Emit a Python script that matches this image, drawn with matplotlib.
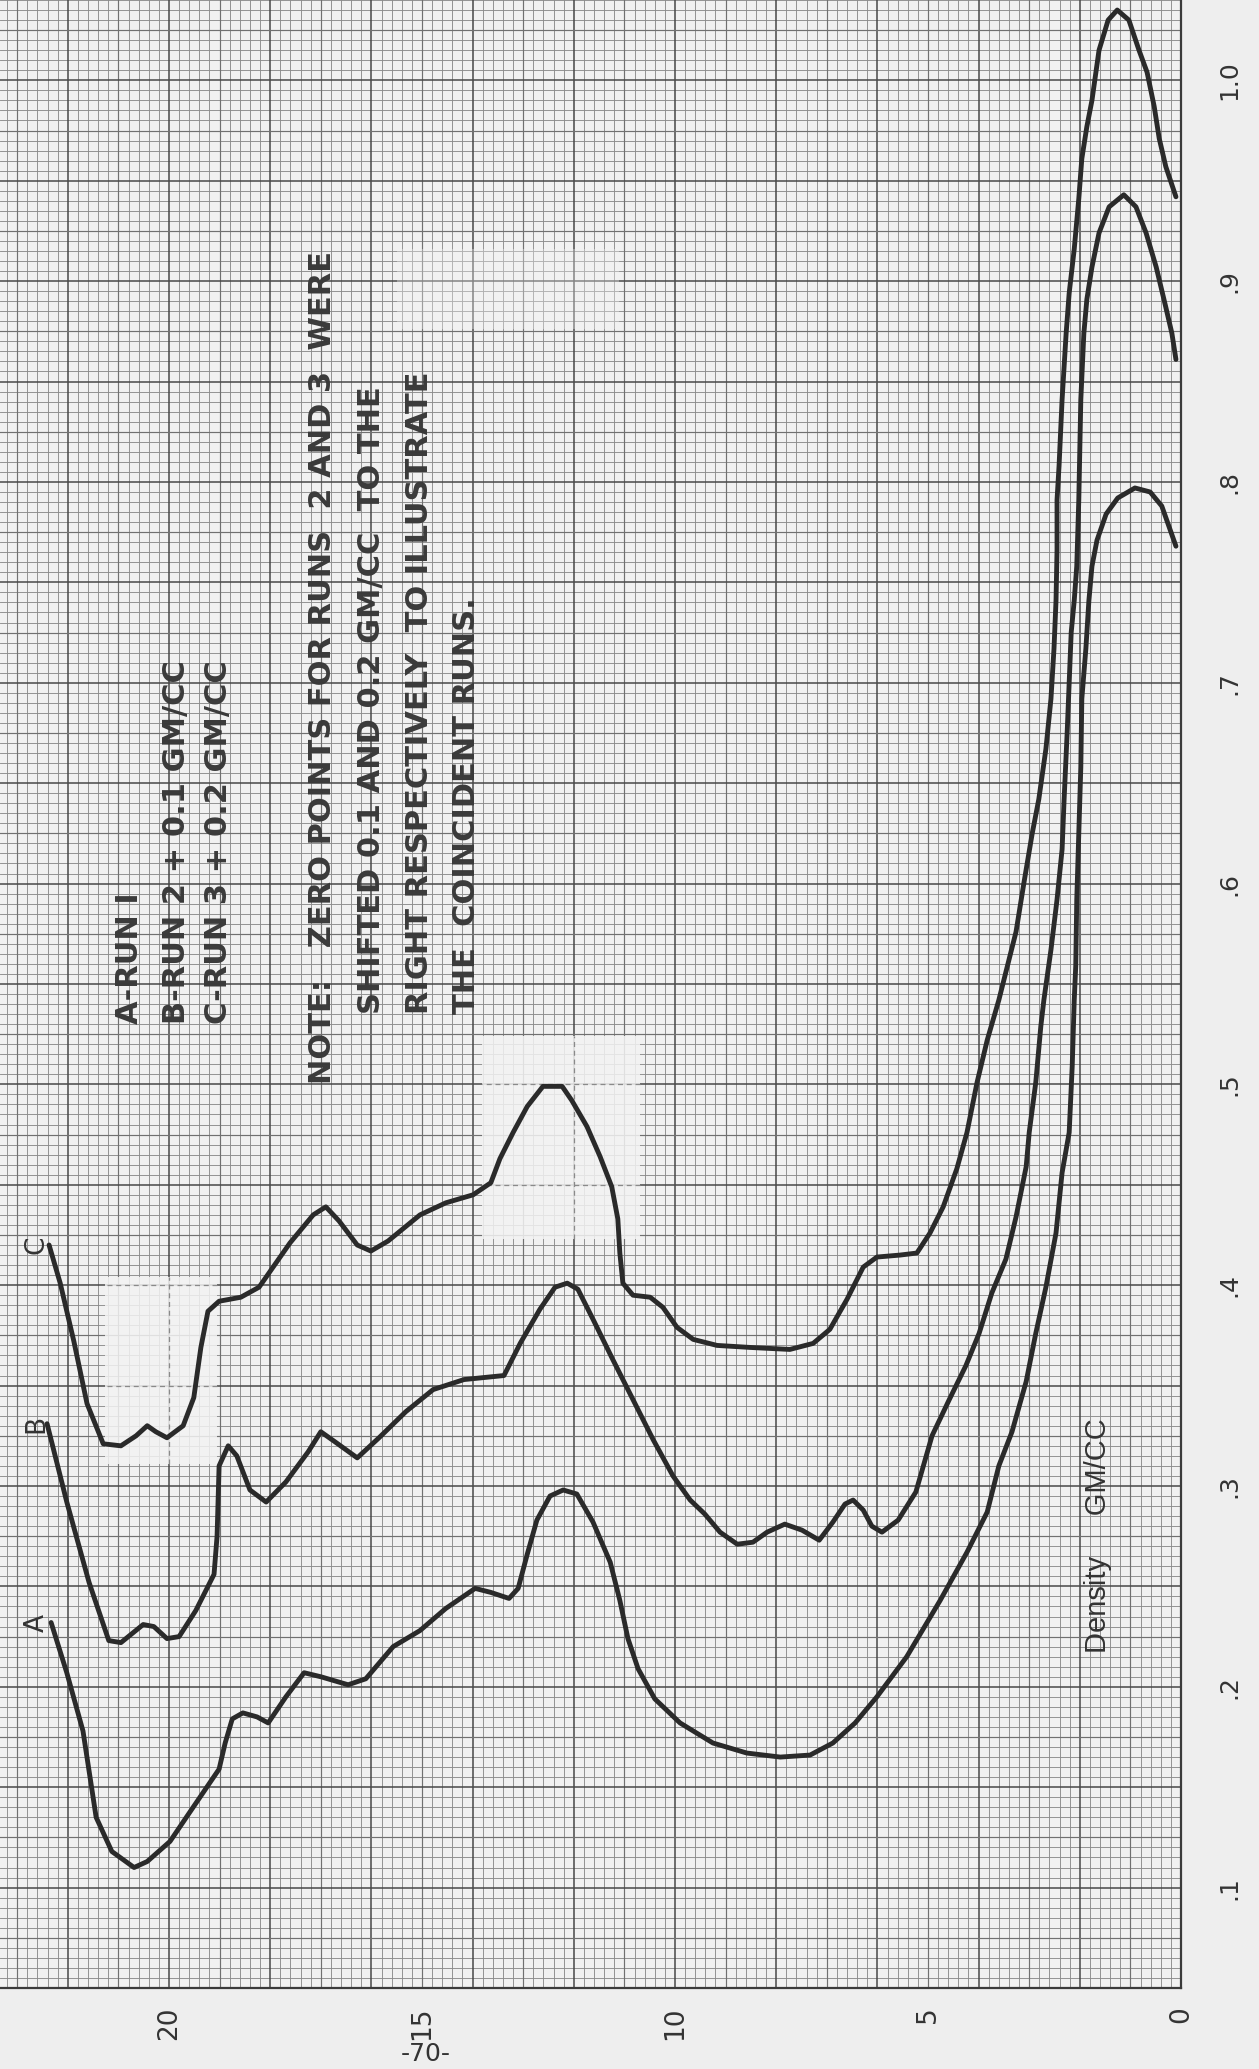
import numpy as np
import matplotlib
matplotlib.use("Agg")
import matplotlib.pyplot as plt
from matplotlib.patches import Rectangle

# position along the tube (chart units) vs. density (gm/cc), three runs
run_a_pos = [22.33, 22.02, 21.70, 21.44, 21.13, 20.69, 20.43, 19.98, 19.55, 19.01,
             18.89, 18.75, 18.54, 18.26, 18.04, 17.69, 17.33, 17.00, 16.46, 16.11,
             15.57, 15.04, 14.53, 13.95, 13.64, 13.28, 13.10, 12.92, 12.73, 12.47,
             12.21, 11.94, 11.62, 11.28, 11.09, 10.93, 10.73, 10.40, 9.90, 9.25,
             8.58, 7.92, 7.33, 6.88, 6.44, 6.01, 5.42, 4.76, 4.23, 3.83,
             3.60, 3.34, 3.06, 2.87, 2.67, 2.47, 2.35, 2.21, 2.15, 2.11,
             2.08, 2.06, 2.02, 1.98, 1.96, 1.88, 1.82, 1.76, 1.66, 1.48,
             1.25, 0.91, 0.61, 0.38, 0.10]
run_a_density = [0.232, 0.207, 0.178, 0.135, 0.118, 0.110, 0.113, 0.123, 0.139, 0.159,
                 0.172, 0.184, 0.187, 0.185, 0.182, 0.195, 0.207, 0.205, 0.201, 0.204,
                 0.220, 0.228, 0.239, 0.249, 0.247, 0.244, 0.249, 0.266, 0.283, 0.295,
                 0.298, 0.296, 0.282, 0.262, 0.243, 0.224, 0.209, 0.194, 0.182, 0.172,
                 0.167, 0.165, 0.166, 0.172, 0.182, 0.195, 0.215, 0.243, 0.267, 0.287,
                 0.310, 0.327, 0.352, 0.376, 0.399, 0.426, 0.456, 0.476, 0.509, 0.542,
                 0.559, 0.592, 0.625, 0.658, 0.692, 0.717, 0.741, 0.758, 0.771, 0.784,
                 0.792, 0.797, 0.795, 0.788, 0.768]

run_b_pos = [22.41, 22.02, 21.58, 21.19, 20.95, 20.51, 20.30, 20.04, 19.80, 19.47,
             19.11, 19.05, 19.01, 18.83, 18.66, 18.40, 18.08, 17.69, 17.25, 17.00,
             16.72, 16.28, 15.85, 15.32, 14.78, 14.17, 13.38, 13.06, 12.67, 12.37,
             12.13, 11.92, 11.62, 11.23, 10.83, 10.43, 10.04, 9.70, 9.41, 9.11,
             8.77, 8.46, 8.18, 7.83, 7.49, 7.15, 6.88, 6.64, 6.48, 6.28,
             6.11, 5.91, 5.59, 5.24, 4.92, 4.58, 4.25, 3.99, 3.74, 3.46,
             3.26, 3.06, 3.00, 2.87, 2.77, 2.71, 2.57, 2.45, 2.35, 2.31,
             2.25, 2.21, 2.17, 2.11, 2.06, 2.02, 1.98, 1.92, 1.86, 1.76,
             1.62, 1.42, 1.13, 0.89, 0.69, 0.49, 0.30, 0.18, 0.10]
run_b_density = [0.331, 0.292, 0.252, 0.223, 0.222, 0.231, 0.230, 0.224, 0.225, 0.238,
                 0.256, 0.275, 0.310, 0.320, 0.315, 0.298, 0.292, 0.302, 0.317, 0.327,
                 0.322, 0.314, 0.324, 0.337, 0.348, 0.353, 0.355, 0.371, 0.388, 0.399,
                 0.401, 0.398, 0.383, 0.363, 0.343, 0.323, 0.305, 0.293, 0.286, 0.277,
                 0.271, 0.272, 0.277, 0.281, 0.278, 0.273, 0.282, 0.291, 0.293, 0.288,
                 0.280, 0.277, 0.283, 0.297, 0.325, 0.343, 0.360, 0.376, 0.396, 0.413,
                 0.434, 0.459, 0.476, 0.501, 0.529, 0.542, 0.567, 0.592, 0.617, 0.642,
                 0.675, 0.700, 0.725, 0.741, 0.758, 0.791, 0.841, 0.874, 0.891, 0.907,
                 0.924, 0.937, 0.943, 0.937, 0.924, 0.907, 0.887, 0.874, 0.861]

run_c_pos = [22.37, 22.15, 21.88, 21.62, 21.30, 20.95, 20.65, 20.43, 20.26, 20.04,
             19.72, 19.51, 19.37, 19.23, 19.01, 18.58, 18.22, 17.61, 17.15, 16.90,
             16.64, 16.28, 16.01, 15.67, 15.04, 14.53, 13.99, 13.64, 13.46, 13.20,
             12.92, 12.61, 12.23, 12.04, 11.74, 11.48, 11.25, 11.13, 11.09, 11.03,
             10.83, 10.49, 10.24, 9.96, 9.64, 9.17, 8.52, 7.73, 7.27, 6.94,
             6.60, 6.28, 6.01, 5.55, 5.22, 4.96, 4.70, 4.43, 4.23, 4.03,
             3.83, 3.60, 3.46, 3.26, 3.10, 2.94, 2.81, 2.67, 2.57, 2.51,
             2.47, 2.45, 2.45, 2.41, 2.35, 2.27, 2.21, 2.11, 2.02, 1.96,
             1.86, 1.76, 1.62, 1.44, 1.26, 1.03, 0.83, 0.67, 0.53, 0.43,
             0.30, 0.10]
run_c_density = [0.420, 0.401, 0.372, 0.341, 0.321, 0.320, 0.325, 0.330, 0.327, 0.324,
                 0.330, 0.344, 0.369, 0.387, 0.392, 0.394, 0.399, 0.421, 0.435, 0.439,
                 0.432, 0.420, 0.417, 0.422, 0.435, 0.441, 0.445, 0.451, 0.463, 0.476,
                 0.489, 0.499, 0.499, 0.492, 0.479, 0.464, 0.449, 0.433, 0.416, 0.401,
                 0.395, 0.394, 0.389, 0.379, 0.373, 0.370, 0.369, 0.368, 0.371, 0.378,
                 0.393, 0.409, 0.414, 0.415, 0.416, 0.426, 0.439, 0.458, 0.476, 0.501,
                 0.522, 0.542, 0.556, 0.576, 0.601, 0.625, 0.642, 0.667, 0.692, 0.717,
                 0.741, 0.766, 0.791, 0.808, 0.841, 0.874, 0.894, 0.916, 0.941, 0.961,
                 0.977, 0.990, 1.015, 1.030, 1.035, 1.030, 1.015, 1.004, 0.987, 0.971,
                 0.957, 0.942]

run_labels = ["A", "B", "C"]

pos_ticks = [0, 5, 10, 15, 20]
pos_tick_labels = ["0", "5", "10", "15", "20"]
density_ticks = [0.1, 0.2, 0.3, 0.4, 0.5, 0.6, 0.7, 0.8, 0.9, 1.0]
density_tick_labels = [".1", ".2", ".3", ".4", ".5", ".6", ".7", ".8", ".9", "1.0"]

legend_lines = ["A-RUN I", "B-RUN 2 + 0.1 GM/CC", "C-RUN 3 + 0.2 GM/CC"]
note_lines = ["NOTE:   ZERO POINTS FOR RUNS  2 AND 3  WERE",
              "SHIFTED 0.1 AND 0.2 GM/CC  TO THE",
              "RIGHT RESPECTIVELY  TO ILLUSTRATE",
              "THE  COINCIDENT RUNS."]

INK = "#2a2a2a"
PAPER = "#eeeeee"

W, H = 1259, 2069
fig = plt.figure(figsize=(W / 100, H / 100), dpi=100)
fig.patch.set_facecolor(PAPER)

# graph sheet: value 0 on the right edge, density increasing upward
ax = fig.add_axes([0, 81 / H, 1181 / W, 1 - 81 / H])
ax.set_facecolor("#f1f1f1")
ax.set_xlim(23.34, 0)
ax.set_ylim(0.05, 1.04)

# ruled paper: fine every 0.2 / 0.005, accent every 1 / 0.025, heavy every 2 / 0.05
fine = dict(color="#8c8c8c", lw=0.65, zorder=0.9)
accent = dict(color="#707070", lw=0.85, zorder=1)
heavy = dict(color="#484848", lw=1.1, zorder=1)
for i in range(0, 118):
    v = i * 0.2
    ax.axvline(v, **(heavy if i % 10 == 0 else accent if i % 5 == 0 else fine))
for j in range(10, 209):
    d = j * 0.005
    ax.axhline(d, **(heavy if j % 10 == 0 else accent if j % 5 == 0 else fine))

# whited-out spots on the sheet
for (v0, v1, d0, d1, a) in [(19.05, 21.26, 0.311, 0.404, 0.85),
                            (10.69, 13.81, 0.423, 0.524, 0.85),
                            (11.1, 15.5, 0.876, 0.916, 0.35)]:
    ax.add_patch(Rectangle((v1, d0), v0 - v1, d1 - d0, facecolor="#f3f3f3",
                           edgecolor="none", alpha=a, zorder=2))
    if a > 0.5:
        for k in range(int(np.ceil(v0 / 2)), int(np.floor(v1 / 2)) + 1):
            ax.plot([2 * k, 2 * k], [d0, d1], color="#8a8a8a", lw=0.9,
                    ls=(0, (4, 3)), zorder=2.5)
        for k in range(int(np.ceil(d0 / 0.05)), int(np.floor(d1 / 0.05)) + 1):
            ax.plot([v0, v1], [0.05 * k, 0.05 * k], color="#8a8a8a", lw=0.9,
                    ls=(0, (4, 3)), zorder=2.5)

runs = [(run_a_pos, run_a_density), (run_b_pos, run_b_density), (run_c_pos, run_c_density)]
for (p, dens), lab in zip(runs, run_labels):
    ax.plot(p, dens, color=INK, lw=3.5, solid_joinstyle="round",
            solid_capstyle="round", zorder=5)
    ax.text(22.62, dens[0], lab, rotation=90, ha="center", va="center",
            fontsize=19, color="#333333", zorder=6)

# notes, lettered sideways
note_font = dict(rotation=90, ha="center", va="bottom", fontsize=22,
                 fontweight="bold", color="#3a3a3a", family="DejaVu Sans", zorder=6)
for v, txt in zip([20.78, 19.86, 19.03], legend_lines):
    ax.text(v, 0.530, txt, **note_font)
ax.text(16.96, 0.500, note_lines[0], **note_font)
for v, txt in zip([15.99, 15.04, 14.12], note_lines[1:]):
    ax.text(v, 0.535, txt, **note_font)

ax.text(1.64, 0.217, "Density     GM/CC", rotation=90, ha="center", va="bottom",
        fontsize=21, color="#333333", family="Liberation Sans", zorder=6)

# axes frame and tick labels
for side in ["top", "left"]:
    ax.spines[side].set_visible(False)
for side in ["right", "bottom"]:
    ax.spines[side].set_color("#3a3a3a")
    ax.spines[side].set_linewidth(1.6)
    ax.spines[side].set_zorder(7)

ax.set_xticks(pos_ticks)
ax.set_xticklabels(pos_tick_labels, rotation=90, fontsize=19, color="#333333")
ax.yaxis.tick_right()
ax.set_yticks(density_ticks)
ax.set_yticklabels(density_tick_labels, rotation=90, fontsize=18, color="#333333",
                   va="center")
ax.tick_params(axis="x", length=0, pad=13)
ax.tick_params(axis="y", length=0, pad=26)

fig.text(426 / W, 1 - 2054 / H, "-70-", ha="center", va="center", fontsize=18,
         color="#333333")

fig.savefig("out.png", dpi=100, facecolor=fig.get_facecolor())
